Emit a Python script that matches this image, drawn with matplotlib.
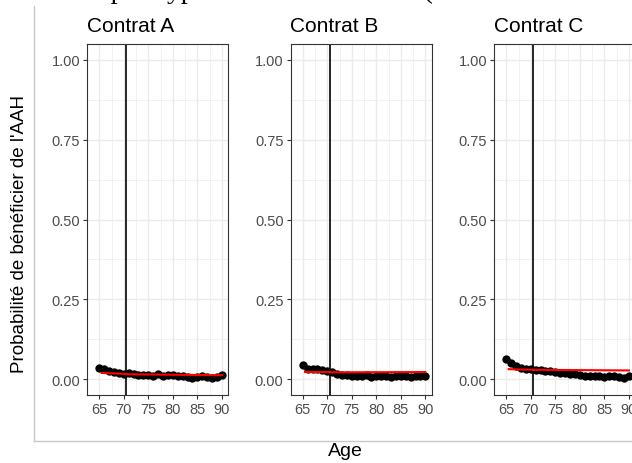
import matplotlib
matplotlib.use("Agg")
import matplotlib.pyplot as plt
from matplotlib.lines import Line2D

plt.rcParams['font.family'] = ['Liberation Sans', 'DejaVu Sans']

ages = list(range(65, 91))
contracts = ["Contrat A", "Contrat B", "Contrat C"]

prob_a = [0.034, 0.030, 0.025, 0.022, 0.020, 0.017, 0.018, 0.015, 0.012, 0.012, 0.013, 0.011, 0.015,
          0.010, 0.014, 0.012, 0.011, 0.008, 0.005, 0.004, 0.006, 0.009, 0.006, 0.004, 0.006, 0.012]
prob_b = [0.044, 0.033, 0.030, 0.030, 0.028, 0.025, 0.023, 0.015, 0.014, 0.012, 0.010, 0.008, 0.010,
          0.012, 0.006, 0.010, 0.010, 0.008, 0.006, 0.010, 0.009, 0.010, 0.006, 0.010, 0.010, 0.009]
prob_c = [0.063, 0.050, 0.040, 0.035, 0.032, 0.030, 0.028, 0.027, 0.026, 0.025, 0.022, 0.020, 0.018,
          0.016, 0.015, 0.012, 0.010, 0.009, 0.008, 0.008, 0.007, 0.008, 0.010, 0.006, 0.004, 0.008]
probs = [prob_a, prob_b, prob_c]

cutoff = 70.5
fit_pre_x = [65.5, 70.5]
fit_post_x = [70.5, 90.0]
fit_pre_a = [0.019, 0.016]
fit_post_a = [0.015, 0.012]
fit_pre_b = [0.021, 0.021]
fit_post_b = [0.021, 0.022]
fit_pre_c = [0.031, 0.029]
fit_post_c = [0.029, 0.027]
fits_pre = [fit_pre_a, fit_pre_b, fit_pre_c]
fits_post = [fit_post_a, fit_post_b, fit_post_c]

y_ticks = [0.0, 0.25, 0.5, 0.75, 1.0]
y_tick_labels = ["0.00", "0.25", "0.50", "0.75", "1.00"]
x_ticks = [65, 70, 75, 80, 85, 90]

W, H = 632, 464
fig = plt.figure(figsize=(W / 100, H / 100), dpi=100)

# outer light frame (left and bottom edges)
fig.add_artist(Line2D([34 / W, 34 / W], [1 - 7 / H, 1 - 442 / H], color="#C8C8C8", lw=1.0,
                      transform=fig.transFigure))
fig.add_artist(Line2D([34 / W, 1.0], [1 - 442 / H, 1 - 442 / H], color="#C8C8C8", lw=1.0,
                      transform=fig.transFigure))

# cut-off title (only descenders visible)
fig.text(-31 / W, 1 + 1.5 / H,
         "Effet estimé par hypothèse de continuité (toutes durées de contrat confondues et toutes les entrées)",
         family=['Liberation Serif', 'DejaVu Serif'], fontsize=20, ha='left', va='baseline')

lefts = [87, 290.5, 494]
pw, top, bottom = 141, 45, 396
grid_col = "#EBEBEB"
for i, name in enumerate(contracts):
    ax = fig.add_axes([lefts[i] / W, 1 - bottom / H, pw / W, (bottom - top) / H])
    ax.set_xlim(63.75, 91.25)
    ax.set_ylim(-0.05, 1.05)
    ax.set_xticks(x_ticks)
    ax.set_xticks([62.5, 67.5, 72.5, 77.5, 82.5, 87.5], minor=True)
    ax.set_yticks(y_ticks)
    ax.set_yticks([0.125, 0.375, 0.625, 0.875], minor=True)
    ax.set_yticklabels(y_tick_labels)
    ax.grid(True, which='major', color=grid_col, lw=1.0)
    ax.grid(True, which='minor', color=grid_col, lw=0.5)
    ax.set_axisbelow(True)
    ax.tick_params(which='minor', length=0)
    ax.tick_params(which='major', length=3, width=0.8, color="#333333", labelcolor="#4D4D4D",
                   labelsize=10.5, pad=2)
    for s in ax.spines.values():
        s.set_color("#333333")
        s.set_linewidth(0.8)
    ax.axvline(cutoff, color="black", lw=1.2, zorder=2)
    ax.scatter(ages, probs[i], s=36, color="black", zorder=3, linewidths=0)
    ax.plot(fit_pre_x, fits_pre[i], color="#FF0000", lw=1.5, zorder=4)
    ax.plot(fit_post_x, fits_post[i], color="#FF0000", lw=1.5, zorder=4)
    ax.set_title(name, loc='left', fontsize=15, pad=9, color="black")

fig.text(345 / W, 1 - 452 / H, "Age", ha='center', va='center', fontsize=14)
fig.text(20 / W, 1 - 234 / H, "Probabilité de bénéficier de l'AAH", rotation=90,
         ha='center', va='center', fontsize=13.5)

fig.savefig("out.png", dpi=100)
